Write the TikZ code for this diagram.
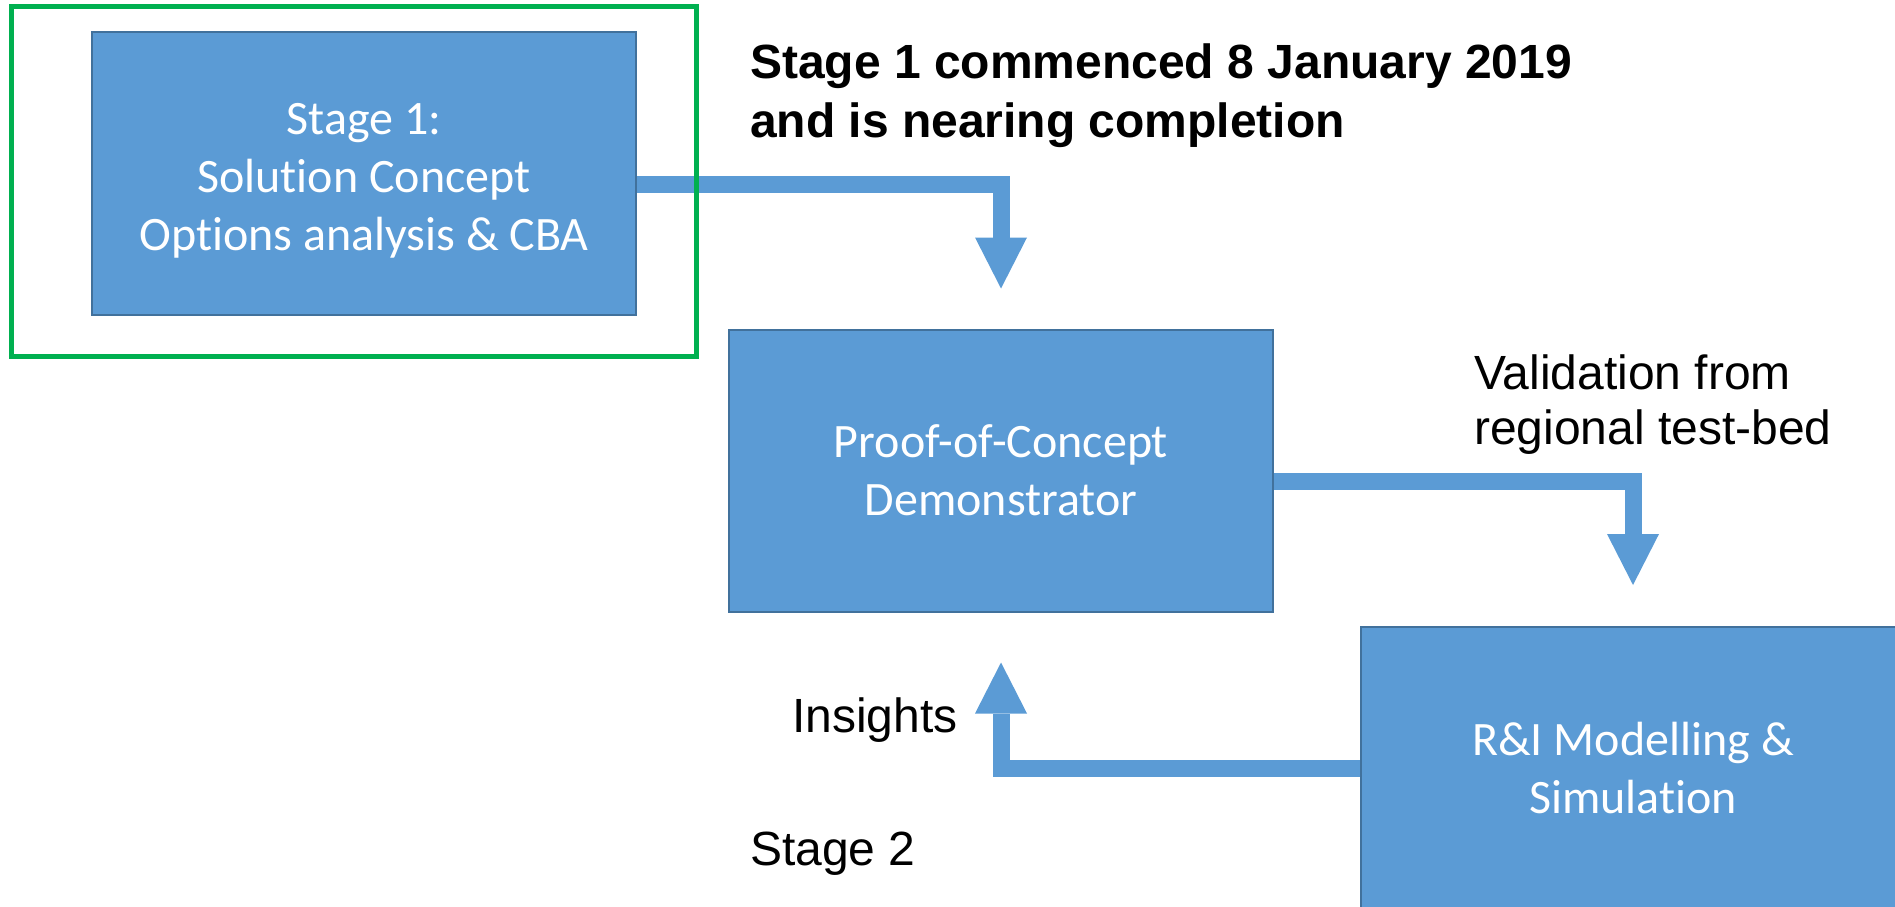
\documentclass[tikz,border=0pt]{standalone}
\usepackage{fontspec}
\setmainfont{Liberation Sans}
\newfontfamily\boxfont[Ligatures=NoCommon]{Carlito}
\newfontfamily\labfont{Liberation Sans}
\usetikzlibrary{arrows.meta,backgrounds}
\definecolor{boxblue}{HTML}{5B9BD5}
\definecolor{boxedge}{HTML}{41719C}
\definecolor{framegreen}{HTML}{00B050}
\tikzset{
  stagebox/.style={draw=boxedge, line width=2pt, fill=boxblue, text=white,
    minimum width=544pt, minimum height=282pt, inner sep=0pt, align=center,
    font=\boxfont\fontsize{48}{58}\selectfont},
  conn/.style={draw=boxblue, line width=17pt, line join=miter,
    -{Triangle[width=52pt,length=51pt,line width=0pt]}},
  lab/.style={inner sep=0pt, align=left, anchor=base west,
    font=\labfont\fontsize{48}{55}\selectfont},
  boldlab/.style={lab, font=\labfont\bfseries\fontsize{48}{59}\selectfont}
}
\begin{document}
\begin{tikzpicture}[x=1pt,y=-1pt]
\useasboundingbox (0,0) rectangle (1895,907);
\clip (0,0) rectangle (1895,907);
% boxes
\node[stagebox, text height=164pt, text depth=11pt] (s1) at (364,173.5) {Stage 1:\\Solution Concept\\Options analysis \& CBA};
\node[stagebox] (poc) at (1001,470.5) {Proof-of-Concept\\Demonstrator};
\node[stagebox] (ri) at (1633,768) {R\&I Modelling \&\\Simulation};
% connectors
\coordinate (t1) at ([yshift=40pt]poc.north);
\coordinate (t2) at ([yshift=41pt]ri.north);
\coordinate (t3) at ([yshift=-50pt]poc.south);
\begin{scope}[on background layer]
\draw[conn] ([yshift=-11pt]s1.east) -| (t1);
\draw[conn] ([yshift=-11pt]poc.east) -| (t2);
\draw[conn] (ri.west) -| (t3);
\end{scope}
% green frame
\node[draw=framegreen, line width=5pt, minimum width=685pt, minimum height=349pt,
  inner sep=0pt] (frame) at (353.5,181.5) {};
% labels
\node[boldlab] (head) at (750,137) {Stage 1 commenced 8 January 2019\\and is nearing completion};
\node[lab] (valid) at (1474,444) {Validation from\\regional test-bed};
\node[lab] (ins) at (792,732) {Insights};
\node[lab] (st2) at (750,865) {Stage 2};
\end{tikzpicture}
\end{document}
